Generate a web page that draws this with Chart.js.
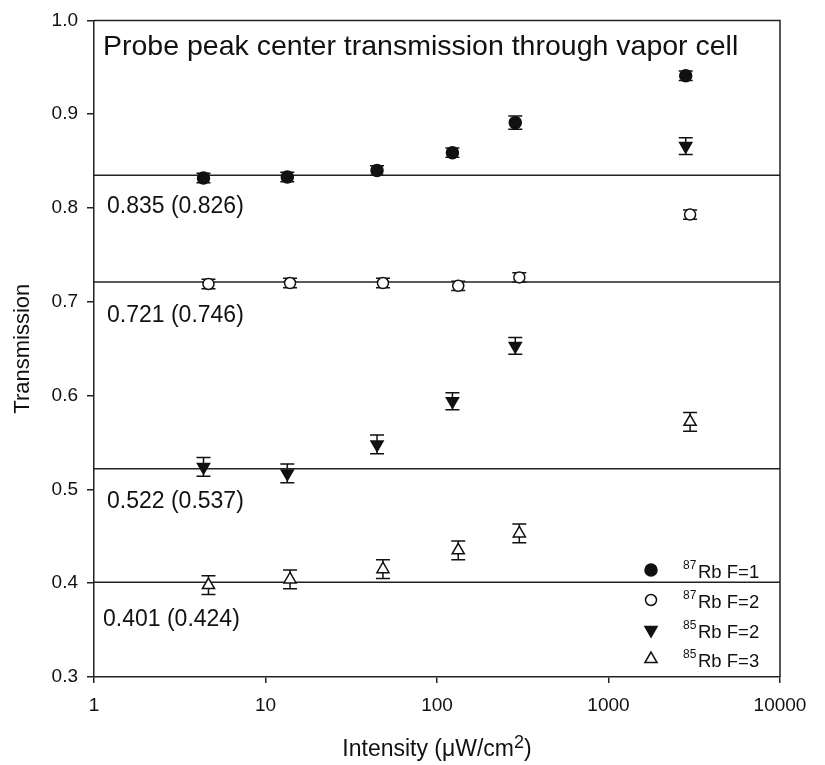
<!DOCTYPE html>
<html><head><meta charset="utf-8">
<script src="https://cdn.jsdelivr.net/npm/chart.js@4/dist/chart.umd.min.js"></script>
<style>html,body{margin:0;padding:0;background:#fff}#wrap{width:825px;height:765px}</style>
</head><body><div id="wrap"><canvas id="c" width="825" height="765"></canvas></div>
<script>
// ---- data ----
const intensityFilled = [4.35, 13.4, 44.7, 123, 286, 2820];
const intensityOpen   = [4.65, 13.9, 48.4, 133, 302, 2990];
const rb87F1    = [0.832, 0.833, 0.840, 0.859, 0.891, 0.941];
const rb87F1Err = [0.005, 0.005, 0.005, 0.005, 0.007, 0.005];
const rb87F2    = [0.719, 0.720, 0.720, 0.717, 0.726, 0.793];
const rb87F2Err = [0.005, 0.005, 0.005, 0.005, 0.005, 0.005];
const rb85F2    = [0.524, 0.517, 0.548, 0.594, 0.653, 0.866];
const rb85F2Err = [0.010, 0.010, 0.010, 0.009, 0.009, 0.009];
const rb85F3    = [0.398, 0.404, 0.415, 0.435, 0.453, 0.572];
const rb85F3Err = [0.010, 0.010, 0.010, 0.010, 0.010, 0.010];
const refLevels = [0.835, 0.721, 0.522, 0.401];
const refLabels = ['0.835 (0.826)', '0.721 (0.746)', '0.522 (0.537)', '0.401 (0.424)'];
const xTickValues = [1, 10, 100, 1000, 10000];
const yTickValues = [0.3, 0.4, 0.5, 0.6, 0.7, 0.8, 0.9, 1.0];
const seriesIsotopes = ['87', '87', '85', '85'];
const seriesNames = ['Rb F=1', 'Rb F=2', 'Rb F=2', 'Rb F=3'];
const chartTitle = 'Probe peak center transmission through vapor cell';
const xTitleParts = ['Intensity (\u03bcW/cm', '2', ')'];
const yTitle = 'Transmission';

const INK = '#111';
const FONT = '"Liberation Sans", Arial, sans-serif';
const toPts = (xs, ys) => xs.map((x, i) => ({x: x, y: ys[i]}));

const markerStyles = [
  {pointStyle: 'circle', radius: 6, rotation: 0, fill: INK},
  {pointStyle: 'circle', radius: 5.5, rotation: 0, fill: '#fff'},
  {pointStyle: 'triangle', radius: 7, rotation: 180, fill: INK},
  {pointStyle: 'triangle', radius: 7, rotation: 0, fill: '#fff'}
];
const seriesData = [
  {x: intensityFilled, y: rb87F1, e: rb87F1Err},
  {x: intensityOpen,   y: rb87F2, e: rb87F2Err},
  {x: intensityFilled, y: rb85F2, e: rb85F2Err},
  {x: intensityOpen,   y: rb85F3, e: rb85F3Err}
];

const datasets = seriesData.map((s, i) => ({
  type: 'scatter',
  label: seriesIsotopes[i] + seriesNames[i],
  data: toPts(s.x, s.y),
  errors: s.e,
  pointStyle: markerStyles[i].pointStyle,
  pointRadius: markerStyles[i].radius,
  pointRotation: markerStyles[i].rotation,
  pointBackgroundColor: markerStyles[i].fill,
  pointBorderColor: INK,
  pointBorderWidth: 1.5,
  showLine: false
}));
refLevels.forEach((v, i) => datasets.push({
  type: 'line',
  label: refLabels[i],
  data: [{x: xTickValues[0], y: v}, {x: xTickValues[xTickValues.length - 1], y: v}],
  borderColor: '#222',
  borderWidth: 1.5,
  pointRadius: 0,
  fill: false
}));

// label placement (pixels below each reference line, left offset from axis)
const refLabelOffsetY = [38, 40, 39, 44];
const refLabelOffsetX = [13, 13, 13, 9];

const errorBars = {
  id: 'errorBars',
  beforeDatasetsDraw(chart) {
    const ctx = chart.ctx, ys = chart.scales.y;
    ctx.save();
    ctx.strokeStyle = INK; ctx.lineWidth = 1.5;
    chart.data.datasets.forEach((ds, i) => {
      if (!ds.errors) return;
      const meta = chart.getDatasetMeta(i);
      meta.data.forEach((pt, j) => {
        const v = ds.data[j].y, e = ds.errors[j];
        const x = pt.x, y1 = ys.getPixelForValue(v + e), y2 = ys.getPixelForValue(v - e);
        ctx.beginPath();
        ctx.moveTo(x, y1); ctx.lineTo(x, y2);
        ctx.moveTo(x - 7, y1); ctx.lineTo(x + 7, y1);
        ctx.moveTo(x - 7, y2); ctx.lineTo(x + 7, y2);
        ctx.stroke();
      });
    });
    ctx.restore();
  }
};

function drawMarker(ctx, st, x, y) {
  ctx.save();
  ctx.fillStyle = st.fill; ctx.strokeStyle = INK; ctx.lineWidth = 1.5;
  ctx.beginPath();
  if (st.pointStyle === 'circle') {
    ctx.arc(x, y, st.radius, 0, Math.PI * 2);
  } else {
    const r = st.radius, s = st.rotation ? -1 : 1;
    ctx.moveTo(x, y - s * r);
    ctx.lineTo(x + r * Math.sin(2 * Math.PI / 3), y + s * r / 2);
    ctx.lineTo(x - r * Math.sin(2 * Math.PI / 3), y + s * r / 2);
    ctx.closePath();
  }
  ctx.fill(); ctx.stroke();
  ctx.restore();
}

const decorations = {
  id: 'decorations',
  afterDatasetsDraw(chart) {
    const ctx = chart.ctx, a = chart.chartArea, ys = chart.scales.y;
    ctx.save();
    ctx.fillStyle = INK;
    // title
    ctx.font = '28.5px ' + FONT;
    ctx.textBaseline = 'alphabetic'; ctx.textAlign = 'left';
    ctx.fillText(chartTitle, a.left + 9, a.top + 35);
    // reference line labels
    ctx.font = '23px ' + FONT;
    refLevels.forEach((v, i) => {
      ctx.fillText(refLabels[i], a.left + refLabelOffsetX[i], ys.getPixelForValue(v) + refLabelOffsetY[i]);
    });
    // legend
    const rowsFromBottom = [99, 69, 39, 10];
    seriesNames.forEach((name, i) => {
      const base = a.bottom - rowsFromBottom[i];
      drawMarker(ctx, markerStyles[i], a.right - 129, base - 8);
      ctx.fillStyle = INK;
      ctx.font = '12px ' + FONT;
      ctx.fillText(seriesIsotopes[i], a.right - 97, base - 9);
      ctx.font = '18.5px ' + FONT;
      ctx.fillText(name, a.right - 82, base);
    });
    // frame top/right
    ctx.strokeStyle = '#222'; ctx.lineWidth = 1.5;
    ctx.beginPath();
    ctx.moveTo(a.left, a.top); ctx.lineTo(a.right, a.top); ctx.lineTo(a.right, a.bottom);
    ctx.stroke();
    ctx.restore();
  },
  afterDraw(chart) {
    // x-axis title with raised exponent
    const ctx = chart.ctx, a = chart.chartArea;
    ctx.save();
    ctx.fillStyle = INK; ctx.textBaseline = 'alphabetic'; ctx.textAlign = 'left';
    const big = '23px ' + FONT, sup = '18px ' + FONT;
    ctx.font = big; const w0 = ctx.measureText(xTitleParts[0]).width;
    ctx.font = sup; const w1 = ctx.measureText(xTitleParts[1]).width;
    ctx.font = big; const w2 = ctx.measureText(xTitleParts[2]).width;
    let x = (a.left + a.right) / 2 - (w0 + w1 + w2) / 2;
    const base = 756;
    ctx.font = big; ctx.fillText(xTitleParts[0], x, base); x += w0;
    ctx.font = sup; ctx.fillText(xTitleParts[1], x, base - 8); x += w1;
    ctx.font = big; ctx.fillText(xTitleParts[2], x, base);
    ctx.restore();
  }
};

new Chart(document.getElementById('c'), {
  data: {datasets: datasets},
  options: {
    responsive: false, animation: false, devicePixelRatio: 1,
    layout: {padding: {left: 0, top: 16, right: 45, bottom: 0}},
    plugins: {legend: {display: false}, tooltip: {enabled: false}, title: {display: false}},
    scales: {
      x: {
        type: 'logarithmic', position: 'bottom', min: 1, max: 10000,
        afterBuildTicks: s => { s.ticks = xTickValues.map(v => ({value: v})); },
        afterFit: s => { s.height = 88; },
        ticks: {color: INK, font: {family: FONT, size: 19}, padding: 11, maxRotation: 0, autoSkip: false,
                callback: v => String(v)},
        grid: {display: true, drawOnChartArea: false, drawTicks: true, tickLength: 6, color: '#222', lineWidth: 1.5},
        border: {display: true, color: '#222', width: 1.5},
        title: {display: false}
      },
      y: {
        type: 'linear', position: 'left', min: 0.3, max: 1.0,
        afterBuildTicks: s => { s.ticks = yTickValues.map(v => ({value: v})); },
        afterFit: s => { s.width = 94; },
        ticks: {color: INK, font: {family: FONT, size: 19}, padding: 9, callback: v => Number(v).toFixed(1)},
        grid: {display: true, drawOnChartArea: false, drawTicks: true, tickLength: 7, color: '#222', lineWidth: 1.5},
        border: {display: true, color: '#222', width: 1.5},
        title: {display: true, text: yTitle, color: INK,
                font: {family: FONT, size: 22}, padding: {top: 10, bottom: 0}}
      }
    }
  },
  plugins: [errorBars, decorations]
});
</script>
</body></html>
